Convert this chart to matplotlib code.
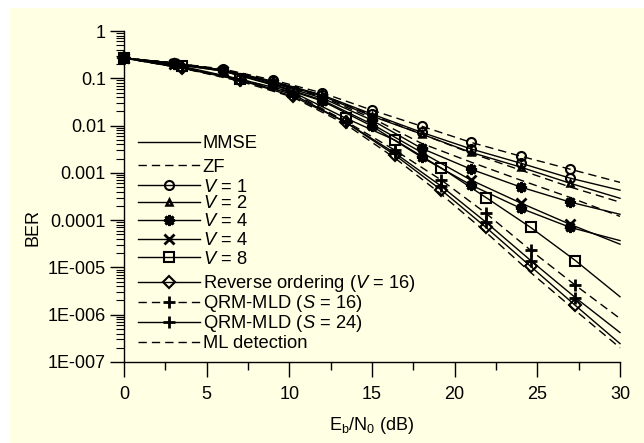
import matplotlib
matplotlib.use("Agg")
import matplotlib.pyplot as plt
from matplotlib.lines import Line2D
from matplotlib.legend import Legend
from matplotlib.patches import Rectangle
from matplotlib.ticker import LogLocator, FixedLocator, NullFormatter, MultipleLocator

plt.rcParams['font.family'] = ['Liberation Sans', 'DejaVu Sans']
plt.rcParams['mathtext.fontset'] = 'custom'
plt.rcParams['mathtext.rm'] = 'Liberation Sans'
plt.rcParams['mathtext.it'] = 'Liberation Sans:italic'
plt.rcParams['lines.scale_dashes'] = False

# Eb/N0 grids (dB)
snr_a = [0, 3, 6, 9, 12, 15, 18, 21, 24, 27, 30]
snr_b = [0, 3.5, 7.0, 10.2, 13.4, 16.4, 19.2, 21.9, 24.6, 27.3, 30]

# BER curves, low-complexity search (V = 1, 2, 4)
ber_v1_zf   = [0.268, 0.21, 0.157, 0.092, 0.049, 0.0212, 0.0097, 0.0044, 0.00225, 0.00119, 0.00063]
ber_v1_mmse = [0.268, 0.21, 0.149, 0.087, 0.044, 0.0175, 0.0072, 0.0032, 0.0016, 0.00077, 0.00043]
ber_v2_zf   = [0.268, 0.21, 0.149, 0.083, 0.044, 0.0166, 0.0066, 0.0026, 0.00114, 0.0005, 0.00024]
ber_v2_mmse = [0.268, 0.21, 0.149, 0.083, 0.042, 0.0158, 0.0066, 0.0027, 0.00132, 0.0006, 0.00029]
ber_v4a_zf  = [0.268, 0.21, 0.149, 0.083, 0.040, 0.0144, 0.0042, 0.00168, 0.0007, 0.0003, 0.00012]
ber_v4a     = [0.268, 0.21, 0.149, 0.079, 0.038, 0.013, 0.0033, 0.00119, 0.0005, 0.00024, 0.000133]
ber_v4b     = [0.268, 0.2, 0.142, 0.075, 0.0345, 0.0107, 0.0027, 0.0007, 0.00023, 8.1e-5, 3.1e-5]
ber_v4c     = [0.268, 0.2, 0.142, 0.072, 0.033, 0.0097, 0.00214, 0.00055, 0.000178, 7.0e-5, 3.7e-5]

# BER curves, V = 8, reverse ordering, QRM-MLD and ML
ber_v8      = [0.268, 0.18, 0.096, 0.051, 0.0144, 0.0049, 0.00126, 0.0003, 7.0e-5, 1.4e-5, 2.4e-6]
ber_qrm16   = [0.268, 0.17, 0.096, 0.049, 0.0124, 0.003, 0.0007, 0.000139, 2.3e-5, 4.2e-6, 8.3e-7]
ber_qrm24   = [0.268, 0.17, 0.092, 0.046, 0.0118, 0.0026, 0.00052, 9.0e-5, 1.4e-5, 2.3e-6, 4.2e-7]
ber_rev     = [0.268, 0.164, 0.092, 0.042, 0.0118, 0.00236, 0.00043, 7.0e-5, 1.05e-5, 1.57e-6, 2.45e-7]
ber_ml      = [0.268, 0.164, 0.087, 0.040, 0.0107, 0.00204, 0.00035, 5.5e-5, 7.8e-6, 1.23e-6, 2.0e-7]

ytick_vals = [1, 0.1, 0.01, 0.001, 0.0001, 1e-5, 1e-6, 1e-7]
ytick_labels = ['1', '0.1', '0.01', '0.001', '0.0001', '1E-005', '1E-006', '1E-007']

legend_labels = ['MMSE', 'ZF', r'$\it{V}$ = 1', r'$\it{V}$ = 2', r'$\it{V}$ = 4',
                 r'$\it{V}$ = 4', r'$\it{V}$ = 8', r'Reverse ordering ($\it{V}$ = 16)',
                 r'QRM-MLD ($\it{S}$ = 16)', r'QRM-MLD ($\it{S}$ = 24)', 'ML detection']

BG = '#FFFFE3'
DASH = (6, 3.6)
FS = 13
LFS = 13.2

fig = plt.figure(figsize=(6.44, 4.43), dpi=100, facecolor='white')
fig.patches.append(Rectangle((10 / 644, 0), 1 - 10 / 644, 1 - 8 / 443,
                             transform=fig.transFigure, facecolor=BG,
                             edgecolor='none', zorder=-10))
ax = fig.add_axes([124 / 644, 1 - 362 / 443, 496 / 644, 331 / 443])
ax.patch.set_alpha(0)

def curve(x, y, dashed, marker, ms, mew=1.5):
    ln, = ax.plot(x, y, color='black', lw=1.0, marker=marker, ms=ms, mew=mew,
                  mfc='none', mec='black', markevery=slice(0, len(x) - 1),
                  clip_on=False)
    if dashed:
        ln.set_dashes(DASH)
    return ln

curve(snr_a, ber_v1_zf, True, 'o', 6.5)
curve(snr_a, ber_v1_mmse, False, 'o', 6.5)
curve(snr_a, ber_v2_zf, True, None, 0)
curve(snr_a, ber_v2_mmse, False, '^', 5, 1.8)
curve(snr_a, ber_v4a_zf, True, None, 0)
curve(snr_a, ber_v4a, False, (8, 2, 0), 8, 2)
curve(snr_a, ber_v4b, False, 'x', 7, 2)
curve(snr_a, ber_v4c, False, (8, 2, 0), 8, 2)
curve(snr_b, ber_v8, False, 's', 7)
curve(snr_b, ber_qrm16, True, '+', 9, 2)
curve(snr_b, ber_qrm24, False, '+', 9, 2)
curve(snr_b, ber_rev, False, 'D', 6)
curve(snr_b, ber_ml, True, None, 0)

ax.set_yscale('log')
ax.set_ylim(1e-7, 1)
ax.set_xlim(0, 30)
ax.yaxis.set_major_locator(FixedLocator(ytick_vals))
ax.set_yticklabels(ytick_labels)
ax.yaxis.set_minor_locator(LogLocator(base=10, subs=range(2, 10), numticks=20))
ax.yaxis.set_minor_formatter(NullFormatter())
ax.xaxis.set_major_locator(MultipleLocator(5))
ax.xaxis.set_minor_locator(MultipleLocator(2.5))

for s in ('top', 'right'):
    ax.spines[s].set_visible(False)
for s in ('left', 'bottom'):
    ax.spines[s].set_linewidth(1.0)

ax.tick_params(axis='y', which='major', length=10, width=1.0, labelsize=FS, pad=3)
ax.tick_params(axis='y', which='minor', length=6, width=0.8)
ax.tick_params(axis='x', which='major', length=11, width=1.0, labelsize=FS, pad=6)
ax.tick_params(axis='x', which='minor', length=6, width=1.0)

ax.set_xlabel(r'E$_\mathregular{b}$/N$_\mathregular{0}$ (dB)', fontsize=FS, labelpad=9)
fig.text(33 / 644, 1 - 227 / 443, 'BER', rotation=90, fontsize=FS,
         ha='center', va='center')

def handle(dashed, marker=None, ms=0, mew=1.5):
    h = Line2D([], [], color='black', lw=1.0, marker=marker, ms=ms, mew=mew,
               mfc='none', mec='black')
    if dashed:
        h.set_dashes(DASH)
    return h

legend_handles = [handle(False), handle(True), handle(False, 'o', 6.5),
                  handle(False, '^', 5, 1.8), handle(False, (8, 2, 0), 8, 2),
                  handle(False, 'x', 7, 2), handle(False, 's', 7),
                  handle(False, 'D', 6), handle(True, '+', 9, 2),
                  handle(False, '+', 9, 2), handle(True)]
# vertical centre of each legend row, in pixels from the top of the figure
legend_rows = [144, 167, 187, 204, 222, 241, 259, 284, 304, 324, 344]

for h, lab, row in zip(legend_handles, legend_labels, legend_rows):
    yfrac = (362 - row) / 331
    leg = Legend(ax, [h], [lab], loc='center left', bbox_to_anchor=(14 / 496, yfrac),
                 frameon=False, fontsize=LFS, handlelength=3.4,
                 handletextpad=0.12, borderpad=0, borderaxespad=0)
    ax.add_artist(leg)

fig.savefig('out.png', dpi=100, facecolor='white')
